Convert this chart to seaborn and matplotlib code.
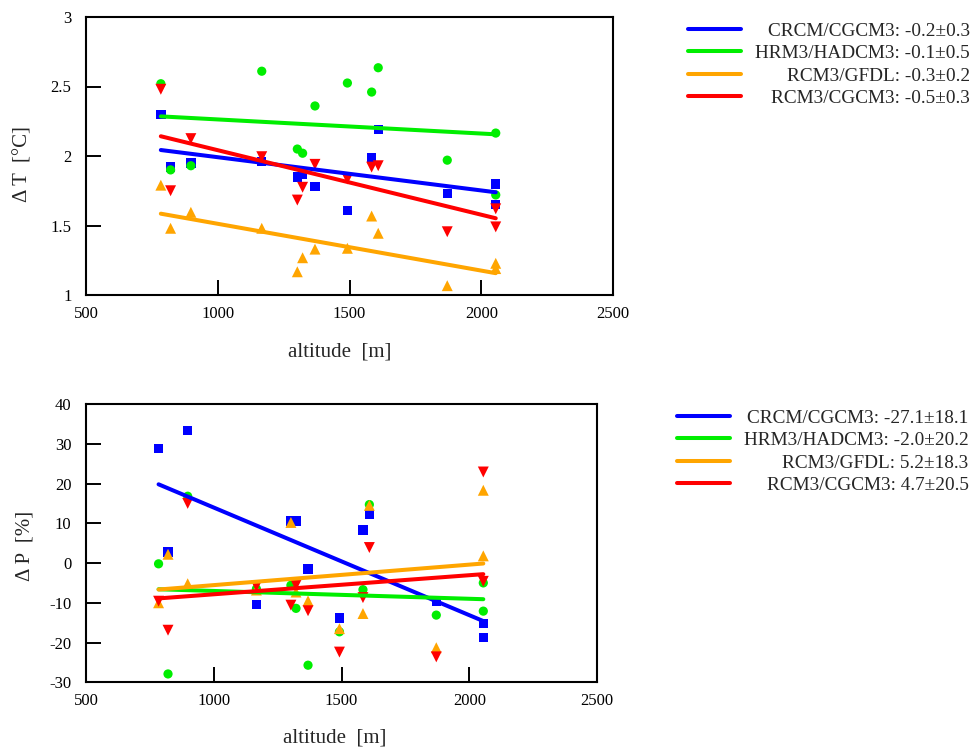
import numpy as np
import pandas as pd
import matplotlib
matplotlib.use("Agg")
import matplotlib.pyplot as plt
from matplotlib.lines import Line2D
import seaborn as sns

# ---------------- data ----------------
models = ["CRCM/CGCM3", "HRM3/HADCM3", "RCM3/GFDL", "RCM3/CGCM3"]
colors = ["#0000ff", "#00ee00", "#ffa500", "#ff0000"]
markers = ["s", "o", "^", "v"]
marker_area = [46, 44, 62, 62]

altitude = [784, 821, 898, 1167, 1302, 1322, 1369, 1492, 1584, 1609, 1871, 2055, 2055]

dT_crcm_cgcm3 = [2.30, 1.92, 1.95, 1.96, 1.85, 1.865, 1.78, 1.61, 1.99, 2.19, 1.73, 1.80, 1.65]
dT_hrm3_hadcm3 = [2.52, 1.90, 1.93, 2.61, 2.05, 2.02, 2.36, 2.525, 2.46, 2.635, 1.97, 2.165, 1.72]
dT_rcm3_gfdl = [1.79, 1.48, 1.595, 1.48, 1.167, 1.268, 1.33, 1.336, 1.568, 1.444, 1.067, 1.228, 1.19]
dT_rcm3_cgcm3 = [2.48, 1.75, 2.125, 1.995, 1.683, 1.775, 1.94, 1.835, 1.92, 1.93, 1.455, 1.62, 1.49]

dP_crcm_cgcm3 = [28.8, 2.8, 33.4, -10.4, 10.6, 10.6, -1.5, -13.8, 8.3, 12.3, -9.5, -15.2, -18.7]
dP_hrm3_hadcm3 = [-0.2, -27.9, 16.8, -6.5, -5.6, -11.4, -25.7, -17.3, -6.7, 14.7, -13.1, -5.0, -12.1]
dP_rcm3_gfdl = [-10.0, 2.2, -5.2, -6.8, 10.2, -7.3, -9.5, -16.5, -12.7, 14.5, -21.3, 18.3, 1.8]
dP_rcm3_cgcm3 = [-9.6, -16.9, 15.0, -5.8, -10.6, -5.6, -12.0, -22.4, -8.7, 3.9, -23.6, 22.9, -4.6]

# fitted trend lines (value at lowest and highest altitude)
fit_altitude = [784, 2055]
fitT_crcm_cgcm3 = [2.043, 1.739]
fitT_hrm3_hadcm3 = [2.285, 2.156]
fitT_rcm3_gfdl = [1.585, 1.157]
fitT_rcm3_cgcm3 = [2.142, 1.552]
fitP_crcm_cgcm3 = [19.8, -14.6]
fitP_hrm3_hadcm3 = [-6.6, -9.1]
fitP_rcm3_gfdl = [-6.67, -0.12]
fitP_rcm3_cgcm3 = [-8.9, -2.8]

# trend per 1000 m and its uncertainty (legend)
slope_T = [-0.2, -0.1, -0.3, -0.5]
err_T = [0.3, 0.5, 0.2, 0.3]
slope_P = [-27.1, -2.0, 5.2, 4.7]
err_P = [18.1, 20.2, 18.3, 20.5]

xticks = [500, 1000, 1500, 2000, 2500]
yticks_T = [1, 1.5, 2, 2.5, 3]
yticks_P = [-30, -20, -10, 0, 10, 20, 30, 40]

# ---------------- frames ----------------
dT_all = [dT_crcm_cgcm3, dT_hrm3_hadcm3, dT_rcm3_gfdl, dT_rcm3_cgcm3]
dP_all = [dP_crcm_cgcm3, dP_hrm3_hadcm3, dP_rcm3_gfdl, dP_rcm3_cgcm3]
fT_all = [fitT_crcm_cgcm3, fitT_hrm3_hadcm3, fitT_rcm3_gfdl, fitT_rcm3_cgcm3]
fP_all = [fitP_crcm_cgcm3, fitP_hrm3_hadcm3, fitP_rcm3_gfdl, fitP_rcm3_cgcm3]

pts = pd.concat([pd.DataFrame({"altitude": altitude, "model": m, "dT": t, "dP": p})
                 for m, t, p in zip(models, dT_all, dP_all)], ignore_index=True)
fits = pd.concat([pd.DataFrame({"altitude": fit_altitude, "model": m, "dT": t, "dP": p})
                  for m, t, p in zip(models, fT_all, fP_all)], ignore_index=True)

pal = dict(zip(models, colors))
mk = dict(zip(models, markers))
sz = dict(zip(models, marker_area))

# ---------------- style ----------------
sns.set_style("white")
plt.rcParams["font.family"] = ["Liberation Serif", "DejaVu Serif"]
plt.rcParams["axes.unicode_minus"] = False
plt.rcParams["xtick.bottom"] = True
plt.rcParams["ytick.left"] = True
plt.rcParams["xtick.direction"] = "in"
plt.rcParams["ytick.direction"] = "in"
plt.rcParams["xtick.major.size"] = 11
plt.rcParams["ytick.major.size"] = 11
plt.rcParams["xtick.major.width"] = 1.4
plt.rcParams["ytick.major.width"] = 1.4

fig = plt.figure(figsize=(9.74, 7.5), dpi=100)
W, H = 974.0, 750.0
ax1 = fig.add_axes([86 / W, 1 - 295 / H, (613 - 86) / W, (295 - 17) / H])
ax2 = fig.add_axes([86 / W, 1 - 682.3 / H, (597 - 86) / W, (682.3 - 404) / H])

panels = [
    (ax1, "dT", yticks_T, (1, 3), "Δ T  [°C]", slope_T, err_T, (688, 22), (0.482, -0.205), 0.47),
    (ax2, "dP", yticks_P, (-30, 40), "Δ P  [%]", slope_P, err_P, (677, 409), (0.487, -0.20), 0.49),
]

legends = []
for ax, col, yt, ylim, ylab, sl, er, lpos, xlc, ylc in panels:
    sns.scatterplot(data=pts, x="altitude", y=col, hue="model", style="model", size="model",
                    palette=pal, markers=mk, sizes=sz, hue_order=models, style_order=models,
                    size_order=models, linewidth=0, legend=False, ax=ax, zorder=3)
    sns.lineplot(data=fits, x="altitude", y=col, hue="model", palette=pal, hue_order=models,
                 linewidth=2.9, estimator=None, legend=False, ax=ax, zorder=4)
    ax.set_xlim(500, 2500)
    ax.set_ylim(*ylim)
    ax.set_xticks(xticks)
    ax.set_xticklabels([f"{v:g}" for v in xticks])
    ax.set_yticks(yt)
    ax.set_yticklabels([f"{v:g}" for v in yt])
    ax.xaxis.set_tick_params(which="major", direction="in", length=11, width=1.4, color="black",
                             labelcolor="black", labelsize=12, pad=8, bottom=True, top=False)
    ax.yaxis.set_tick_params(which="major", direction="in", length=11, width=1.4, color="black",
                             labelcolor="black", labelsize=12, pad=10.5, left=True, right=False)
    for tk in ax.yaxis.get_major_ticks() + ax.xaxis.get_major_ticks():
        tk.tick1line.set_markersize(11)
        tk.tick1line.set_markeredgewidth(1.4)
    for s in ax.spines.values():
        s.set_visible(True)
        s.set_color("black")
        s.set_linewidth(1.5)
    ax.set_xlabel("altitude  [m]", fontsize=15)
    ax.xaxis.label.set_va("center")
    ax.xaxis.set_label_coords(*xlc)
    ax.set_ylabel(ylab, fontsize=15)
    ax.yaxis.label.set_va("center")
    ax.yaxis.set_label_coords(-0.12, ylc)
    ax.grid(False)

    handles = [Line2D([], [], color=c, lw=2.9) for c in colors]
    labels = [f"{m}: {s:.1f}±{e:.1f}" for m, s, e in zip(models, sl, er)]
    leg = ax.legend(handles, labels, loc="upper left",
                    bbox_to_anchor=(lpos[0] / W, 1 - lpos[1] / H), bbox_transform=fig.transFigure,
                    frameon=False, borderpad=0, borderaxespad=0, handlelength=2.75,
                    handletextpad=0.72, labelspacing=0.26, fontsize=13.9)
    legends.append(leg)

# right-justify legend texts
fig.canvas.draw()
r = fig.canvas.get_renderer()
for leg in legends:
    texts = leg.get_texts()
    widths = [t.get_window_extent(r).width for t in texts]
    mw = max(widths)
    for t, w in zip(texts, widths):
        t.set_x(mw - w)

fig.savefig("out.png", dpi=100)
